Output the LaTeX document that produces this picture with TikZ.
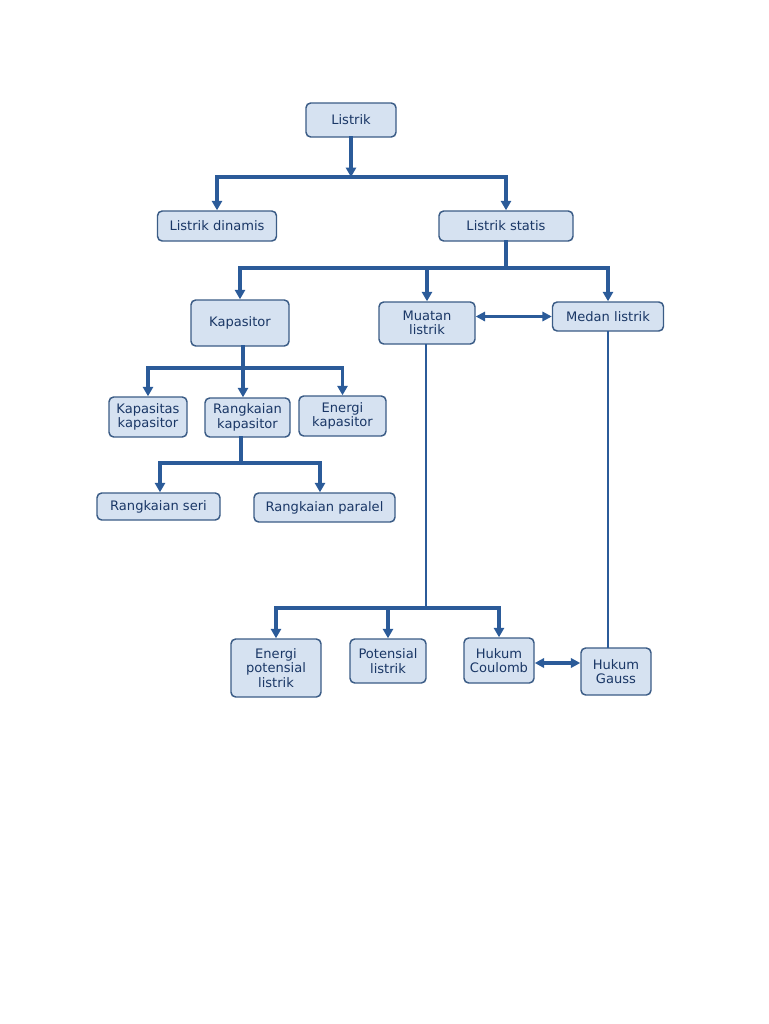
\documentclass[tikz,border=0pt]{standalone}
\usepackage{fontspec}
\setmainfont{DejaVu Sans}
\usetikzlibrary{arrows.meta}
\definecolor{kotak}{HTML}{D6E2F1}
\definecolor{tepi}{HTML}{3B5C86}
\definecolor{garis}{HTML}{2B5B99}
\definecolor{huruf}{HTML}{1A3766}
\tikzset{konsep/.style 2 args={draw=tepi,line width=1.1pt,rounded corners=3.5pt,fill=kotak,
    text=huruf,font=\fontsize{9.8}{10.8}\selectfont,align=center,inner sep=1pt,
    minimum width=#1*0.75pt,minimum height=#2*0.75pt},
  garisan/.style={draw=garis,line width=2.4pt,line cap=rect},
  panah/.style={garisan,-{Triangle[width=7.5pt,length=7pt]}},
  duapanah/.style={garisan,{Triangle[width=7pt,length=7pt]}-{Triangle[width=7pt,length=7pt]}}}

\begin{document}
\begin{tikzpicture}[x=0.75pt,y=-0.75pt]
            \useasboundingbox (0,0) rectangle (768,1024);
            % tingkat atas
            \node[konsep={90}{34}] (listrik) at (351,120) {Listrik};
            \node[konsep={119}{30}] (dinamis) at (217,226) {Listrik dinamis};
            \node[konsep={134}{30}] (statis) at (506,226) {Listrik statis};
            \coordinate (j1) at (351,177);
            \draw[panah] (listrik) -- (j1);
            \draw[garisan] (dinamis.north |- j1) -- (statis.north |- j1);
            \draw[panah] (dinamis.north |- j1) -- (dinamis);
            \draw[panah] (statis.north |- j1) -- (statis);

            % listrik statis
            \node[konsep={98}{46}] (kapasitor) at (240,323) {Kapasitor};
            \node[konsep={96}{42}] (muatan) at (427,323) {Muatan\\listrik};
            \node[konsep={111}{29}] (medan) at (608,316.5) {Medan listrik};
            \coordinate (j2) at (506,268);
            \draw[garisan] (statis) -- (j2);
            \draw[garisan] (kapasitor.north |- j2) -- (medan.north |- j2);
            \draw[panah] (kapasitor.north |- j2) -- (kapasitor);
            \draw[panah] (muatan.north |- j2) -- (muatan);
            \draw[panah] (medan.north |- j2) -- (medan);
            \draw[duapanah,line width=1.6pt] (muatan.east |- medan) -- (medan.west);

            % kapasitor
            \node[konsep={78}{40}] (kapasitas) at (148,417) {Kapasitas\\kapasitor};
            \node[konsep={85}{39}] (rangkaian) at (247.5,417.5) {Rangkaian\\kapasitor};
            \node[konsep={87}{40}] (energi) at (342.5,416) {Energi\\kapasitor};
            \coordinate (j3) at (243,368);
            \draw[garisan] (kapasitor.south -| j3) -- (j3);
            \draw[garisan] (kapasitas.north |- j3) -- (energi.north |- j3);
            \draw[panah] (kapasitas.north |- j3) -- (kapasitas);
            \draw[panah] (j3) -- (j3 |- rangkaian.north);
            \draw[panah] (energi.north |- j3) -- (energi);

            % rangkaian
            \node[konsep={123}{27}] (seri) at (158.5,506.5) {Rangkaian seri};
            \node[konsep={141}{29}] (paralel) at (324.5,507.5) {Rangkaian paralel};
            \coordinate (j4) at (241,463);
            \coordinate (kiri) at (160,463);
            \coordinate (kanan) at (320,463);
            \draw[garisan] (j4 |- rangkaian.south) -- (j4);
            \draw[garisan] (kiri) -- (kanan);
            \draw[panah] (kiri) -- (kiri |- seri.north);
            \draw[panah] (kanan) -- (kanan |- paralel.north);

            % muatan listrik
            \node[konsep={90}{58}] (epot) at (276,668) {Energi\\potensial\\listrik};
            \node[konsep={76}{44}] (potensial) at (388,661) {Potensial\\listrik};
            \node[konsep={70}{45}] (coulomb) at (499,660.5) {Hukum\\Coulomb};
            \node[konsep={70}{47}] (gauss) at (616,671.5) {Hukum\\Gauss};
            \coordinate (j5) at (426,608);
            \draw[garisan,line width=1.8pt] (muatan.south -| j5) -- (j5);
            \draw[garisan] (epot.north |- j5) -- (coulomb.north |- j5);
            \draw[panah] (epot.north |- j5) -- (epot);
            \draw[panah] (potensial.north |- j5) -- (potensial);
            \draw[panah] (coulomb.north |- j5) -- (coulomb);

            % medan listrik
            \draw[garisan,line width=1.8pt] (medan) -- (medan |- gauss.north);
            \draw[duapanah] (coulomb.east |- 0,663) -- (gauss.west |- 0,663);
\end{tikzpicture}
\end{document}
